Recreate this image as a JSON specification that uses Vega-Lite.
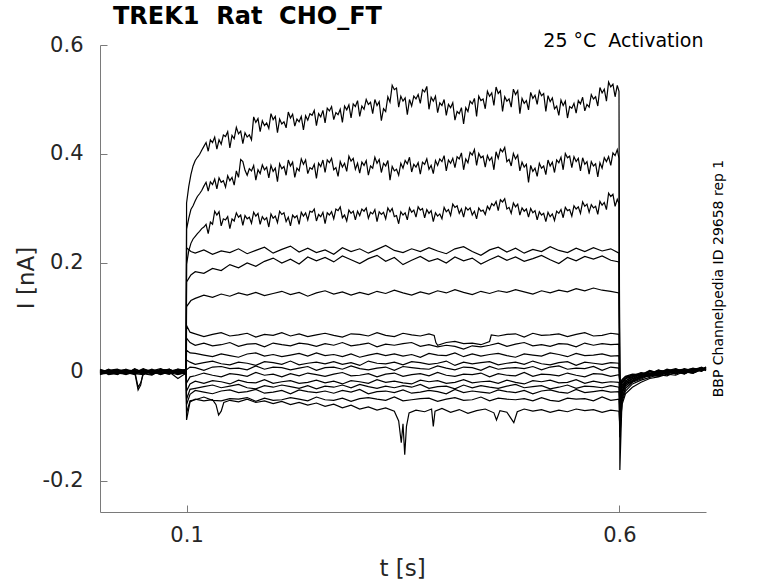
{
  "$schema": "https://vega.github.io/schema/vega-lite/v6.json",
  "width": 606,
  "height": 467,
  "autosize": {"type": "none"},
  "padding": {"left": 100, "top": 45, "right": 72, "bottom": 71},
  "background": "white",
  "config": {
    "view": {"stroke": null},
    "font": "DejaVu Sans",
    "axis": {
      "grid": false,
      "domainColor": "#7a7a7a",
      "tickColor": "#7a7a7a",
      "labelColor": "#262626",
      "labelFont": "DejaVu Sans",
      "labelFontSize": 21,
      "titleFont": "DejaVu Sans",
      "titleFontSize": 23,
      "titleFontWeight": "normal",
      "titleColor": "#262626",
      "tickSize": -7
    }
  },
  "title": {
    "text": "TREK1\u00a0 Rat\u00a0 CHO_FT",
    "anchor": "start",
    "frame": "group",
    "dx": 13,
    "offset": 2,
    "baseline": "top",
    "font": "DejaVu Sans",
    "fontSize": 24,
    "fontWeight": "bold",
    "color": "black"
  },
  "data": {
    "values": [
      {"s":1,"t":0,"i":0.003},{"s":1,"t":0.01,"i":-0.004},{"s":1,"t":0.02,"i":0.002},{"s":1,"t":0.03,"i":-0.001},{"s":1,"t":0.04,"i":-0.005},{"s":1,"t":0.05,"i":0.004},{"s":1,"t":0.06,"i":0.001},{"s":1,"t":0.07,"i":-0.003},{"s":1,"t":0.08,"i":0.005},{"s":1,"t":0.09,"i":-0.002},{"s":1,"t":0.0995,"i":0.001},
      {"s":1,"t":0.1,"i":0.31},{"s":1,"t":0.105,"i":0.362},{"s":1,"t":0.11,"i":0.388},{"s":1,"t":0.115,"i":0.399},{"s":1,"t":0.12,"i":0.414},{"s":1,"t":0.125,"i":0.405},{"s":1,"t":0.13,"i":0.421},{"s":1,"t":0.135,"i":0.409},{"s":1,"t":0.14,"i":0.418},{"s":1,"t":0.145,"i":0.432},
      {"s":1,"t":0.15,"i":0.411},{"s":1,"t":0.155,"i":0.428},{"s":1,"t":0.16,"i":0.437},{"s":1,"t":0.165,"i":0.419},{"s":1,"t":0.17,"i":0.431},{"s":1,"t":0.175,"i":0.426},{"s":1,"t":0.18,"i":0.458},{"s":1,"t":0.185,"i":0.441},{"s":1,"t":0.19,"i":0.452},{"s":1,"t":0.195,"i":0.447},
      {"s":1,"t":0.2,"i":0.463},{"s":1,"t":0.205,"i":0.439},{"s":1,"t":0.21,"i":0.455},{"s":1,"t":0.215,"i":0.448},{"s":1,"t":0.22,"i":0.466},{"s":1,"t":0.225,"i":0.451},{"s":1,"t":0.23,"i":0.459},{"s":1,"t":0.235,"i":0.444},{"s":1,"t":0.24,"i":0.462},{"s":1,"t":0.245,"i":0.471},
      {"s":1,"t":0.25,"i":0.452},{"s":1,"t":0.255,"i":0.468},{"s":1,"t":0.26,"i":0.457},{"s":1,"t":0.265,"i":0.479},{"s":1,"t":0.27,"i":0.463},{"s":1,"t":0.275,"i":0.472},{"s":1,"t":0.28,"i":0.458},{"s":1,"t":0.285,"i":0.481},{"s":1,"t":0.29,"i":0.466},{"s":1,"t":0.295,"i":0.487},
      {"s":1,"t":0.3,"i":0.469},{"s":1,"t":0.305,"i":0.482},{"s":1,"t":0.31,"i":0.491},{"s":1,"t":0.315,"i":0.474},{"s":1,"t":0.32,"i":0.489},{"s":1,"t":0.325,"i":0.461},{"s":1,"t":0.33,"i":0.478},{"s":1,"t":0.335,"i":0.495},{"s":1,"t":0.34,"i":0.518},{"s":1,"t":0.345,"i":0.486},
      {"s":1,"t":0.35,"i":0.497},{"s":1,"t":0.355,"i":0.472},{"s":1,"t":0.36,"i":0.488},{"s":1,"t":0.365,"i":0.501},{"s":1,"t":0.37,"i":0.493},{"s":1,"t":0.375,"i":0.514},{"s":1,"t":0.38,"i":0.482},{"s":1,"t":0.385,"i":0.497},{"s":1,"t":0.39,"i":0.476},{"s":1,"t":0.395,"i":0.489},
      {"s":1,"t":0.4,"i":0.471},{"s":1,"t":0.405,"i":0.485},{"s":1,"t":0.41,"i":0.462},{"s":1,"t":0.415,"i":0.474},{"s":1,"t":0.42,"i":0.455},{"s":1,"t":0.425,"i":0.478},{"s":1,"t":0.43,"i":0.492},{"s":1,"t":0.435,"i":0.469},{"s":1,"t":0.44,"i":0.498},{"s":1,"t":0.445,"i":0.483},
      {"s":1,"t":0.45,"i":0.506},{"s":1,"t":0.455,"i":0.489},{"s":1,"t":0.46,"i":0.511},{"s":1,"t":0.465,"i":0.478},{"s":1,"t":0.47,"i":0.497},{"s":1,"t":0.475,"i":0.486},{"s":1,"t":0.48,"i":0.509},{"s":1,"t":0.485,"i":0.474},{"s":1,"t":0.49,"i":0.493},{"s":1,"t":0.495,"i":0.481},
      {"s":1,"t":0.5,"i":0.502},{"s":1,"t":0.505,"i":0.491},{"s":1,"t":0.51,"i":0.507},{"s":1,"t":0.515,"i":0.478},{"s":1,"t":0.52,"i":0.496},{"s":1,"t":0.525,"i":0.483},{"s":1,"t":0.53,"i":0.471},{"s":1,"t":0.535,"i":0.489},{"s":1,"t":0.54,"i":0.466},{"s":1,"t":0.545,"i":0.484},
      {"s":1,"t":0.55,"i":0.475},{"s":1,"t":0.555,"i":0.492},{"s":1,"t":0.56,"i":0.479},{"s":1,"t":0.565,"i":0.486},{"s":1,"t":0.57,"i":0.501},{"s":1,"t":0.575,"i":0.488},{"s":1,"t":0.58,"i":0.512},{"s":1,"t":0.585,"i":0.497},{"s":1,"t":0.59,"i":0.523},{"s":1,"t":0.595,"i":0.505},{"s":1,"t":0.5995,"i":0.515},
      {"s":1,"t":0.6005,"i":-0.18},{"s":1,"t":0.603,"i":-0.05},{"s":1,"t":0.607,"i":-0.03},{"s":1,"t":0.615,"i":-0.018},{"s":1,"t":0.625,"i":-0.011},{"s":1,"t":0.635,"i":-0.004},{"s":1,"t":0.645,"i":-0.007},{"s":1,"t":0.655,"i":0.002},{"s":1,"t":0.665,"i":-0.003},{"s":1,"t":0.675,"i":0.004},{"s":1,"t":0.685,"i":0.001},{"s":1,"t":0.695,"i":0.008},{"s":1,"t":0.7,"i":0.005},
      {"s":1,"t":0.1025,"i":0.34},{"s":1,"t":0.1075,"i":0.378},{"s":1,"t":0.1125,"i":0.394},{"s":1,"t":0.1175,"i":0.407},{"s":1,"t":0.1225,"i":0.421},{"s":1,"t":0.1275,"i":0.426},{"s":1,"t":0.1325,"i":0.431},{"s":1,"t":0.1375,"i":0.426},{"s":1,"t":0.1425,"i":0.435},{"s":1,"t":0.1475,"i":0.441},
      {"s":1,"t":0.1525,"i":0.434},{"s":1,"t":0.1575,"i":0.449},{"s":1,"t":0.1625,"i":0.442},{"s":1,"t":0.1675,"i":0.439},{"s":1,"t":0.1725,"i":0.435},{"s":1,"t":0.1775,"i":0.468},{"s":1,"t":0.1825,"i":0.465},{"s":1,"t":0.1875,"i":0.461},{"s":1,"t":0.1925,"i":0.457},{"s":1,"t":0.1975,"i":0.474},
      {"s":1,"t":0.2025,"i":0.469},{"s":1,"t":0.2075,"i":0.464},{"s":1,"t":0.2125,"i":0.459},{"s":1,"t":0.2175,"i":0.477},{"s":1,"t":0.2225,"i":0.473},{"s":1,"t":0.2275,"i":0.464},{"s":1,"t":0.2325,"i":0.469},{"s":1,"t":0.2375,"i":0.47},{"s":1,"t":0.2425,"i":0.474},{"s":1,"t":0.2475,"i":0.48},
      {"s":1,"t":0.2525,"i":0.474},{"s":1,"t":0.2575,"i":0.48},{"s":1,"t":0.2625,"i":0.484},{"s":1,"t":0.2675,"i":0.487},{"s":1,"t":0.2725,"i":0.476},{"s":1,"t":0.2775,"i":0.482},{"s":1,"t":0.2825,"i":0.488},{"s":1,"t":0.2875,"i":0.49},{"s":1,"t":0.2925,"i":0.492},{"s":1,"t":0.2975,"i":0.498},
      {"s":1,"t":0.3025,"i":0.488},{"s":1,"t":0.3075,"i":0.5},{"s":1,"t":0.3125,"i":0.495},{"s":1,"t":0.3175,"i":0.5},{"s":1,"t":0.3225,"i":0.496},{"s":1,"t":0.3275,"i":0.483},{"s":1,"t":0.3325,"i":0.505},{"s":1,"t":0.3375,"i":0.526},{"s":1,"t":0.3425,"i":0.521},{"s":1,"t":0.3475,"i":0.506},
      {"s":1,"t":0.3525,"i":0.503},{"s":1,"t":0.3575,"i":0.5},{"s":1,"t":0.3625,"i":0.506},{"s":1,"t":0.3675,"i":0.509},{"s":1,"t":0.3725,"i":0.518},{"s":1,"t":0.3775,"i":0.524},{"s":1,"t":0.3825,"i":0.504},{"s":1,"t":0.3875,"i":0.506},{"s":1,"t":0.3925,"i":0.494},{"s":1,"t":0.3975,"i":0.5},
      {"s":1,"t":0.4025,"i":0.491},{"s":1,"t":0.4075,"i":0.494},{"s":1,"t":0.4125,"i":0.478},{"s":1,"t":0.4175,"i":0.485},{"s":1,"t":0.4225,"i":0.485},{"s":1,"t":0.4275,"i":0.497},{"s":1,"t":0.4325,"i":0.502},{"s":1,"t":0.4375,"i":0.506},{"s":1,"t":0.4425,"i":0.501},{"s":1,"t":0.4475,"i":0.515},
      {"s":1,"t":0.4525,"i":0.512},{"s":1,"t":0.4575,"i":0.523},{"s":1,"t":0.4625,"i":0.516},{"s":1,"t":0.4675,"i":0.505},{"s":1,"t":0.4725,"i":0.501},{"s":1,"t":0.4775,"i":0.519},{"s":1,"t":0.4825,"i":0.516},{"s":1,"t":0.4875,"i":0.502},{"s":1,"t":0.4925,"i":0.498},{"s":1,"t":0.4975,"i":0.513},
      {"s":1,"t":0.5025,"i":0.508},{"s":1,"t":0.5075,"i":0.516},{"s":1,"t":0.5125,"i":0.511},{"s":1,"t":0.5175,"i":0.507},{"s":1,"t":0.5225,"i":0.503},{"s":1,"t":0.5275,"i":0.488},{"s":1,"t":0.5325,"i":0.499},{"s":1,"t":0.5375,"i":0.497},{"s":1,"t":0.5425,"i":0.487},{"s":1,"t":0.5475,"i":0.493},
      {"s":1,"t":0.5525,"i":0.498},{"s":1,"t":0.5575,"i":0.504},{"s":1,"t":0.5625,"i":0.491},{"s":1,"t":0.5675,"i":0.509},{"s":1,"t":0.5725,"i":0.505},{"s":1,"t":0.5775,"i":0.522},{"s":1,"t":0.5825,"i":0.519},{"s":1,"t":0.5875,"i":0.532},{"s":1,"t":0.5925,"i":0.528},{"s":1,"t":0.5975,"i":0.526},

      {"s":2,"t":0,"i":-0.002},{"s":2,"t":0.01,"i":0.005},{"s":2,"t":0.02,"i":-0.003},{"s":2,"t":0.03,"i":0.001},{"s":2,"t":0.04,"i":0.003},{"s":2,"t":0.05,"i":-0.004},{"s":2,"t":0.06,"i":0.002},{"s":2,"t":0.07,"i":0.006},{"s":2,"t":0.08,"i":-0.001},{"s":2,"t":0.09,"i":-0.005},{"s":2,"t":0.0995,"i":0},
      {"s":2,"t":0.1,"i":0.262},{"s":2,"t":0.105,"i":0.298},{"s":2,"t":0.11,"i":0.314},{"s":2,"t":0.115,"i":0.327},{"s":2,"t":0.12,"i":0.341},{"s":2,"t":0.125,"i":0.332},{"s":2,"t":0.13,"i":0.344},{"s":2,"t":0.135,"i":0.336},{"s":2,"t":0.14,"i":0.348},{"s":2,"t":0.145,"i":0.339},
      {"s":2,"t":0.15,"i":0.351},{"s":2,"t":0.155,"i":0.343},{"s":2,"t":0.16,"i":0.357},{"s":2,"t":0.165,"i":0.386},{"s":2,"t":0.17,"i":0.361},{"s":2,"t":0.175,"i":0.369},{"s":2,"t":0.18,"i":0.352},{"s":2,"t":0.185,"i":0.364},{"s":2,"t":0.19,"i":0.371},{"s":2,"t":0.195,"i":0.356},
      {"s":2,"t":0.2,"i":0.368},{"s":2,"t":0.205,"i":0.349},{"s":2,"t":0.21,"i":0.373},{"s":2,"t":0.215,"i":0.361},{"s":2,"t":0.22,"i":0.378},{"s":2,"t":0.225,"i":0.357},{"s":2,"t":0.23,"i":0.369},{"s":2,"t":0.235,"i":0.381},{"s":2,"t":0.24,"i":0.364},{"s":2,"t":0.245,"i":0.372},
      {"s":2,"t":0.25,"i":0.355},{"s":2,"t":0.255,"i":0.377},{"s":2,"t":0.26,"i":0.366},{"s":2,"t":0.265,"i":0.384},{"s":2,"t":0.27,"i":0.371},{"s":2,"t":0.275,"i":0.359},{"s":2,"t":0.28,"i":0.376},{"s":2,"t":0.285,"i":0.368},{"s":2,"t":0.29,"i":0.387},{"s":2,"t":0.295,"i":0.372},
      {"s":2,"t":0.3,"i":0.365},{"s":2,"t":0.305,"i":0.379},{"s":2,"t":0.31,"i":0.361},{"s":2,"t":0.315,"i":0.374},{"s":2,"t":0.32,"i":0.383},{"s":2,"t":0.325,"i":0.366},{"s":2,"t":0.33,"i":0.378},{"s":2,"t":0.335,"i":0.352},{"s":2,"t":0.34,"i":0.369},{"s":2,"t":0.345,"i":0.361},
      {"s":2,"t":0.35,"i":0.374},{"s":2,"t":0.355,"i":0.382},{"s":2,"t":0.36,"i":0.367},{"s":2,"t":0.365,"i":0.376},{"s":2,"t":0.37,"i":0.363},{"s":2,"t":0.375,"i":0.381},{"s":2,"t":0.38,"i":0.372},{"s":2,"t":0.385,"i":0.364},{"s":2,"t":0.39,"i":0.379},{"s":2,"t":0.395,"i":0.386},
      {"s":2,"t":0.4,"i":0.369},{"s":2,"t":0.405,"i":0.383},{"s":2,"t":0.41,"i":0.375},{"s":2,"t":0.415,"i":0.391},{"s":2,"t":0.42,"i":0.371},{"s":2,"t":0.425,"i":0.384},{"s":2,"t":0.43,"i":0.398},{"s":2,"t":0.435,"i":0.379},{"s":2,"t":0.44,"i":0.393},{"s":2,"t":0.445,"i":0.376},
      {"s":2,"t":0.45,"i":0.388},{"s":2,"t":0.455,"i":0.371},{"s":2,"t":0.46,"i":0.392},{"s":2,"t":0.465,"i":0.404},{"s":2,"t":0.47,"i":0.386},{"s":2,"t":0.475,"i":0.378},{"s":2,"t":0.48,"i":0.391},{"s":2,"t":0.485,"i":0.369},{"s":2,"t":0.49,"i":0.376},{"s":2,"t":0.495,"i":0.348},
      {"s":2,"t":0.5,"i":0.368},{"s":2,"t":0.505,"i":0.359},{"s":2,"t":0.51,"i":0.374},{"s":2,"t":0.515,"i":0.362},{"s":2,"t":0.52,"i":0.378},{"s":2,"t":0.525,"i":0.366},{"s":2,"t":0.53,"i":0.384},{"s":2,"t":0.535,"i":0.371},{"s":2,"t":0.54,"i":0.393},{"s":2,"t":0.545,"i":0.375},
      {"s":2,"t":0.55,"i":0.386},{"s":2,"t":0.555,"i":0.369},{"s":2,"t":0.56,"i":0.381},{"s":2,"t":0.565,"i":0.363},{"s":2,"t":0.57,"i":0.378},{"s":2,"t":0.575,"i":0.358},{"s":2,"t":0.58,"i":0.374},{"s":2,"t":0.585,"i":0.386},{"s":2,"t":0.59,"i":0.379},{"s":2,"t":0.595,"i":0.397},{"s":2,"t":0.5995,"i":0.392},
      {"s":2,"t":0.6005,"i":-0.11},{"s":2,"t":0.603,"i":-0.04},{"s":2,"t":0.607,"i":-0.026},{"s":2,"t":0.615,"i":-0.015},{"s":2,"t":0.625,"i":-0.006},{"s":2,"t":0.635,"i":-0.008},{"s":2,"t":0.645,"i":0.001},{"s":2,"t":0.655,"i":-0.004},{"s":2,"t":0.665,"i":0.003},{"s":2,"t":0.675,"i":-0.001},{"s":2,"t":0.685,"i":0.006},{"s":2,"t":0.695,"i":0.002},{"s":2,"t":0.7,"i":0.009},
      {"s":2,"t":0.1025,"i":0.282},{"s":2,"t":0.1075,"i":0.305},{"s":2,"t":0.1125,"i":0.322},{"s":2,"t":0.1175,"i":0.333},{"s":2,"t":0.1225,"i":0.348},{"s":2,"t":0.1275,"i":0.349},{"s":2,"t":0.1325,"i":0.354},{"s":2,"t":0.1375,"i":0.356},{"s":2,"t":0.1425,"i":0.351},{"s":2,"t":0.1475,"i":0.36},
      {"s":2,"t":0.1525,"i":0.357},{"s":2,"t":0.1575,"i":0.369},{"s":2,"t":0.1625,"i":0.39},{"s":2,"t":0.1675,"i":0.37},{"s":2,"t":0.1725,"i":0.373},{"s":2,"t":0.1775,"i":0.379},{"s":2,"t":0.1825,"i":0.371},{"s":2,"t":0.1875,"i":0.38},{"s":2,"t":0.1925,"i":0.376},{"s":2,"t":0.1975,"i":0.379},
      {"s":2,"t":0.2025,"i":0.374},{"s":2,"t":0.2075,"i":0.382},{"s":2,"t":0.2125,"i":0.377},{"s":2,"t":0.2175,"i":0.389},{"s":2,"t":0.2225,"i":0.385},{"s":2,"t":0.2275,"i":0.374},{"s":2,"t":0.2325,"i":0.391},{"s":2,"t":0.2375,"i":0.389},{"s":2,"t":0.2425,"i":0.375},{"s":2,"t":0.2475,"i":0.381},
      {"s":2,"t":0.2525,"i":0.383},{"s":2,"t":0.2575,"i":0.389},{"s":2,"t":0.2625,"i":0.389},{"s":2,"t":0.2675,"i":0.392},{"s":2,"t":0.2725,"i":0.375},{"s":2,"t":0.2775,"i":0.386},{"s":2,"t":0.2825,"i":0.383},{"s":2,"t":0.2875,"i":0.396},{"s":2,"t":0.2925,"i":0.392},{"s":2,"t":0.2975,"i":0.383},
      {"s":2,"t":0.3025,"i":0.385},{"s":2,"t":0.3075,"i":0.388},{"s":2,"t":0.3125,"i":0.378},{"s":2,"t":0.3175,"i":0.394},{"s":2,"t":0.3225,"i":0.39},{"s":2,"t":0.3275,"i":0.383},{"s":2,"t":0.3325,"i":0.388},{"s":2,"t":0.3375,"i":0.377},{"s":2,"t":0.3425,"i":0.372},{"s":2,"t":0.3475,"i":0.383},
      {"s":2,"t":0.3525,"i":0.388},{"s":2,"t":0.3575,"i":0.394},{"s":2,"t":0.3625,"i":0.381},{"s":2,"t":0.3675,"i":0.384},{"s":2,"t":0.3725,"i":0.385},{"s":2,"t":0.3775,"i":0.391},{"s":2,"t":0.3825,"i":0.379},{"s":2,"t":0.3875,"i":0.388},{"s":2,"t":0.3925,"i":0.391},{"s":2,"t":0.3975,"i":0.397},
      {"s":2,"t":0.4025,"i":0.389},{"s":2,"t":0.4075,"i":0.392},{"s":2,"t":0.4125,"i":0.395},{"s":2,"t":0.4175,"i":0.402},{"s":2,"t":0.4225,"i":0.391},{"s":2,"t":0.4275,"i":0.403},{"s":2,"t":0.4325,"i":0.408},{"s":2,"t":0.4375,"i":0.401},{"s":2,"t":0.4425,"i":0.396},{"s":2,"t":0.4475,"i":0.397},
      {"s":2,"t":0.4525,"i":0.394},{"s":2,"t":0.4575,"i":0.404},{"s":2,"t":0.4625,"i":0.409},{"s":2,"t":0.4675,"i":0.412},{"s":2,"t":0.4725,"i":0.39},{"s":2,"t":0.4775,"i":0.401},{"s":2,"t":0.4825,"i":0.398},{"s":2,"t":0.4875,"i":0.385},{"s":2,"t":0.4925,"i":0.381},{"s":2,"t":0.4975,"i":0.379},
      {"s":2,"t":0.5025,"i":0.374},{"s":2,"t":0.5075,"i":0.383},{"s":2,"t":0.5125,"i":0.378},{"s":2,"t":0.5175,"i":0.389},{"s":2,"t":0.5225,"i":0.385},{"s":2,"t":0.5275,"i":0.389},{"s":2,"t":0.5325,"i":0.394},{"s":2,"t":0.5375,"i":0.401},{"s":2,"t":0.5425,"i":0.396},{"s":2,"t":0.5475,"i":0.395},
      {"s":2,"t":0.5525,"i":0.392},{"s":2,"t":0.5575,"i":0.393},{"s":2,"t":0.5625,"i":0.386},{"s":2,"t":0.5675,"i":0.386},{"s":2,"t":0.5725,"i":0.382},{"s":2,"t":0.5775,"i":0.384},{"s":2,"t":0.5825,"i":0.393},{"s":2,"t":0.5875,"i":0.395},{"s":2,"t":0.5925,"i":0.402},{"s":2,"t":0.5975,"i":0.408},

      {"s":3,"t":0,"i":0.004},{"s":3,"t":0.01,"i":0.001},{"s":3,"t":0.02,"i":-0.005},{"s":3,"t":0.03,"i":0.003},{"s":3,"t":0.04,"i":-0.002},{"s":3,"t":0.05,"i":0},{"s":3,"t":0.06,"i":0.005},{"s":3,"t":0.07,"i":-0.003},{"s":3,"t":0.08,"i":-0.001},{"s":3,"t":0.09,"i":0.003},{"s":3,"t":0.0995,"i":-0.004},
      {"s":3,"t":0.1,"i":0.198},{"s":3,"t":0.105,"i":0.236},{"s":3,"t":0.11,"i":0.249},{"s":3,"t":0.115,"i":0.258},{"s":3,"t":0.12,"i":0.266},{"s":3,"t":0.125,"i":0.254},{"s":3,"t":0.13,"i":0.271},{"s":3,"t":0.135,"i":0.288},{"s":3,"t":0.14,"i":0.268},{"s":3,"t":0.145,"i":0.279},
      {"s":3,"t":0.15,"i":0.263},{"s":3,"t":0.155,"i":0.277},{"s":3,"t":0.16,"i":0.284},{"s":3,"t":0.165,"i":0.269},{"s":3,"t":0.17,"i":0.281},{"s":3,"t":0.175,"i":0.273},{"s":3,"t":0.18,"i":0.286},{"s":3,"t":0.185,"i":0.271},{"s":3,"t":0.19,"i":0.279},{"s":3,"t":0.195,"i":0.266},
      {"s":3,"t":0.2,"i":0.282},{"s":3,"t":0.205,"i":0.274},{"s":3,"t":0.21,"i":0.289},{"s":3,"t":0.215,"i":0.276},{"s":3,"t":0.22,"i":0.268},{"s":3,"t":0.225,"i":0.283},{"s":3,"t":0.23,"i":0.271},{"s":3,"t":0.235,"i":0.286},{"s":3,"t":0.24,"i":0.279},{"s":3,"t":0.245,"i":0.293},
      {"s":3,"t":0.25,"i":0.277},{"s":3,"t":0.255,"i":0.285},{"s":3,"t":0.26,"i":0.272},{"s":3,"t":0.265,"i":0.288},{"s":3,"t":0.27,"i":0.281},{"s":3,"t":0.275,"i":0.296},{"s":3,"t":0.28,"i":0.283},{"s":3,"t":0.285,"i":0.277},{"s":3,"t":0.29,"i":0.291},{"s":3,"t":0.295,"i":0.279},
      {"s":3,"t":0.3,"i":0.287},{"s":3,"t":0.305,"i":0.295},{"s":3,"t":0.31,"i":0.282},{"s":3,"t":0.315,"i":0.29},{"s":3,"t":0.32,"i":0.276},{"s":3,"t":0.325,"i":0.289},{"s":3,"t":0.33,"i":0.281},{"s":3,"t":0.335,"i":0.294},{"s":3,"t":0.34,"i":0.285},{"s":3,"t":0.345,"i":0.272},
      {"s":3,"t":0.35,"i":0.288},{"s":3,"t":0.355,"i":0.279},{"s":3,"t":0.36,"i":0.293},{"s":3,"t":0.365,"i":0.284},{"s":3,"t":0.37,"i":0.297},{"s":3,"t":0.375,"i":0.283},{"s":3,"t":0.38,"i":0.291},{"s":3,"t":0.385,"i":0.276},{"s":3,"t":0.39,"i":0.286},{"s":3,"t":0.395,"i":0.281},
      {"s":3,"t":0.4,"i":0.294},{"s":3,"t":0.405,"i":0.287},{"s":3,"t":0.41,"i":0.302},{"s":3,"t":0.415,"i":0.291},{"s":3,"t":0.42,"i":0.284},{"s":3,"t":0.425,"i":0.297},{"s":3,"t":0.43,"i":0.288},{"s":3,"t":0.435,"i":0.281},{"s":3,"t":0.44,"i":0.295},{"s":3,"t":0.445,"i":0.289},
      {"s":3,"t":0.45,"i":0.298},{"s":3,"t":0.455,"i":0.305},{"s":3,"t":0.46,"i":0.296},{"s":3,"t":0.465,"i":0.312},{"s":3,"t":0.47,"i":0.299},{"s":3,"t":0.475,"i":0.291},{"s":3,"t":0.48,"i":0.303},{"s":3,"t":0.485,"i":0.288},{"s":3,"t":0.49,"i":0.295},{"s":3,"t":0.495,"i":0.284},
      {"s":3,"t":0.5,"i":0.292},{"s":3,"t":0.505,"i":0.279},{"s":3,"t":0.51,"i":0.288},{"s":3,"t":0.515,"i":0.276},{"s":3,"t":0.52,"i":0.285},{"s":3,"t":0.525,"i":0.278},{"s":3,"t":0.53,"i":0.291},{"s":3,"t":0.535,"i":0.283},{"s":3,"t":0.54,"i":0.296},{"s":3,"t":0.545,"i":0.286},
      {"s":3,"t":0.55,"i":0.299},{"s":3,"t":0.555,"i":0.291},{"s":3,"t":0.56,"i":0.304},{"s":3,"t":0.565,"i":0.293},{"s":3,"t":0.57,"i":0.301},{"s":3,"t":0.575,"i":0.289},{"s":3,"t":0.58,"i":0.306},{"s":3,"t":0.585,"i":0.298},{"s":3,"t":0.59,"i":0.322},{"s":3,"t":0.595,"i":0.304},{"s":3,"t":0.5995,"i":0.309},
      {"s":3,"t":0.6005,"i":-0.085},{"s":3,"t":0.603,"i":-0.036},{"s":3,"t":0.607,"i":-0.022},{"s":3,"t":0.615,"i":-0.016},{"s":3,"t":0.625,"i":-0.009},{"s":3,"t":0.635,"i":-0.002},{"s":3,"t":0.645,"i":-0.005},{"s":3,"t":0.655,"i":0.003},{"s":3,"t":0.665,"i":0.001},{"s":3,"t":0.675,"i":-0.003},{"s":3,"t":0.685,"i":0.005},{"s":3,"t":0.695,"i":0.007},{"s":3,"t":0.7,"i":0.003},
      {"s":3,"t":0.1025,"i":0.222},{"s":3,"t":0.1075,"i":0.244},{"s":3,"t":0.1125,"i":0.254},{"s":3,"t":0.1175,"i":0.263},{"s":3,"t":0.1225,"i":0.271},{"s":3,"t":0.1275,"i":0.275},{"s":3,"t":0.1325,"i":0.295},{"s":3,"t":0.1375,"i":0.294},{"s":3,"t":0.1425,"i":0.281},{"s":3,"t":0.1475,"i":0.285},
      {"s":3,"t":0.1525,"i":0.281},{"s":3,"t":0.1575,"i":0.292},{"s":3,"t":0.1625,"i":0.288},{"s":3,"t":0.1675,"i":0.287},{"s":3,"t":0.1725,"i":0.284},{"s":3,"t":0.1775,"i":0.293},{"s":3,"t":0.1825,"i":0.291},{"s":3,"t":0.1875,"i":0.285},{"s":3,"t":0.1925,"i":0.283},{"s":3,"t":0.1975,"i":0.29},
      {"s":3,"t":0.2025,"i":0.286},{"s":3,"t":0.2075,"i":0.295},{"s":3,"t":0.2125,"i":0.292},{"s":3,"t":0.2175,"i":0.284},{"s":3,"t":0.2225,"i":0.288},{"s":3,"t":0.2275,"i":0.287},{"s":3,"t":0.2325,"i":0.293},{"s":3,"t":0.2375,"i":0.292},{"s":3,"t":0.2425,"i":0.295},{"s":3,"t":0.2475,"i":0.299},
      {"s":3,"t":0.2525,"i":0.289},{"s":3,"t":0.2575,"i":0.293},{"s":3,"t":0.2625,"i":0.292},{"s":3,"t":0.2675,"i":0.294},{"s":3,"t":0.2725,"i":0.299},{"s":3,"t":0.2775,"i":0.303},{"s":3,"t":0.2825,"i":0.288},{"s":3,"t":0.2875,"i":0.297},{"s":3,"t":0.2925,"i":0.295},{"s":3,"t":0.2975,"i":0.295},
      {"s":3,"t":0.3025,"i":0.299},{"s":3,"t":0.3075,"i":0.301},{"s":3,"t":0.3125,"i":0.293},{"s":3,"t":0.3175,"i":0.298},{"s":3,"t":0.3225,"i":0.294},{"s":3,"t":0.3275,"i":0.293},{"s":3,"t":0.3325,"i":0.301},{"s":3,"t":0.3375,"i":0.3},{"s":3,"t":0.3425,"i":0.287},{"s":3,"t":0.3475,"i":0.294},
      {"s":3,"t":0.3525,"i":0.292},{"s":3,"t":0.3575,"i":0.301},{"s":3,"t":0.3625,"i":0.297},{"s":3,"t":0.3675,"i":0.303},{"s":3,"t":0.3725,"i":0.3},{"s":3,"t":0.3775,"i":0.298},{"s":3,"t":0.3825,"i":0.296},{"s":3,"t":0.3875,"i":0.292},{"s":3,"t":0.3925,"i":0.29},{"s":3,"t":0.3975,"i":0.302},
      {"s":3,"t":0.4025,"i":0.298},{"s":3,"t":0.4075,"i":0.308},{"s":3,"t":0.4125,"i":0.305},{"s":3,"t":0.4175,"i":0.299},{"s":3,"t":0.4225,"i":0.302},{"s":3,"t":0.4275,"i":0.301},{"s":3,"t":0.4325,"i":0.295},{"s":3,"t":0.4375,"i":0.301},{"s":3,"t":0.4425,"i":0.297},{"s":3,"t":0.4475,"i":0.304},
      {"s":3,"t":0.4525,"i":0.309},{"s":3,"t":0.4575,"i":0.313},{"s":3,"t":0.4625,"i":0.316},{"s":3,"t":0.4675,"i":0.318},{"s":3,"t":0.4725,"i":0.302},{"s":3,"t":0.4775,"i":0.31},{"s":3,"t":0.4825,"i":0.308},{"s":3,"t":0.4875,"i":0.301},{"s":3,"t":0.4925,"i":0.299},{"s":3,"t":0.4975,"i":0.3},
      {"s":3,"t":0.5025,"i":0.296},{"s":3,"t":0.5075,"i":0.294},{"s":3,"t":0.5125,"i":0.291},{"s":3,"t":0.5175,"i":0.293},{"s":3,"t":0.5225,"i":0.29},{"s":3,"t":0.5275,"i":0.295},{"s":3,"t":0.5325,"i":0.298},{"s":3,"t":0.5375,"i":0.302},{"s":3,"t":0.5425,"i":0.298},{"s":3,"t":0.5475,"i":0.305},
      {"s":3,"t":0.5525,"i":0.303},{"s":3,"t":0.5575,"i":0.312},{"s":3,"t":0.5625,"i":0.308},{"s":3,"t":0.5675,"i":0.307},{"s":3,"t":0.5725,"i":0.304},{"s":3,"t":0.5775,"i":0.313},{"s":3,"t":0.5825,"i":0.311},{"s":3,"t":0.5875,"i":0.328},{"s":3,"t":0.5925,"i":0.326},{"s":3,"t":0.5975,"i":0.317},

      {"s":4,"t":0,"i":-0.005},{"s":4,"t":0.01,"i":0.002},{"s":4,"t":0.02,"i":0.004},{"s":4,"t":0.03,"i":-0.002},{"s":4,"t":0.04,"i":0.001},{"s":4,"t":0.05,"i":-0.003},{"s":4,"t":0.06,"i":-0.006},{"s":4,"t":0.07,"i":0.003},{"s":4,"t":0.08,"i":0},{"s":4,"t":0.09,"i":0.004},{"s":4,"t":0.0995,"i":0.002},
      {"s":4,"t":0.1,"i":0.228},{"s":4,"t":0.105,"i":0.221},{"s":4,"t":0.11,"i":0.218},{"s":4,"t":0.12,"i":0.224},{"s":4,"t":0.13,"i":0.216},{"s":4,"t":0.14,"i":0.222},{"s":4,"t":0.15,"i":0.219},{"s":4,"t":0.16,"i":0.226},{"s":4,"t":0.17,"i":0.217},{"s":4,"t":0.18,"i":0.223},{"s":4,"t":0.19,"i":0.229},
      {"s":4,"t":0.2,"i":0.218},{"s":4,"t":0.21,"i":0.225},{"s":4,"t":0.22,"i":0.231},{"s":4,"t":0.23,"i":0.22},{"s":4,"t":0.24,"i":0.227},{"s":4,"t":0.25,"i":0.219},{"s":4,"t":0.26,"i":0.224},{"s":4,"t":0.27,"i":0.216},{"s":4,"t":0.28,"i":0.228},{"s":4,"t":0.29,"i":0.221},
      {"s":4,"t":0.3,"i":0.226},{"s":4,"t":0.31,"i":0.218},{"s":4,"t":0.32,"i":0.225},{"s":4,"t":0.33,"i":0.232},{"s":4,"t":0.34,"i":0.223},{"s":4,"t":0.35,"i":0.219},{"s":4,"t":0.36,"i":0.226},{"s":4,"t":0.37,"i":0.221},{"s":4,"t":0.38,"i":0.228},{"s":4,"t":0.39,"i":0.222},
      {"s":4,"t":0.4,"i":0.217},{"s":4,"t":0.41,"i":0.226},{"s":4,"t":0.42,"i":0.23},{"s":4,"t":0.43,"i":0.221},{"s":4,"t":0.44,"i":0.214},{"s":4,"t":0.45,"i":0.224},{"s":4,"t":0.46,"i":0.229},{"s":4,"t":0.47,"i":0.22},{"s":4,"t":0.48,"i":0.227},{"s":4,"t":0.49,"i":0.218},
      {"s":4,"t":0.5,"i":0.225},{"s":4,"t":0.51,"i":0.221},{"s":4,"t":0.52,"i":0.23},{"s":4,"t":0.53,"i":0.223},{"s":4,"t":0.54,"i":0.219},{"s":4,"t":0.55,"i":0.227},{"s":4,"t":0.56,"i":0.221},{"s":4,"t":0.57,"i":0.228},{"s":4,"t":0.58,"i":0.222},{"s":4,"t":0.59,"i":0.226},{"s":4,"t":0.5995,"i":0.218},
      {"s":4,"t":0.6005,"i":-0.06},{"s":4,"t":0.603,"i":-0.035},{"s":4,"t":0.607,"i":-0.022},{"s":4,"t":0.615,"i":-0.013},{"s":4,"t":0.625,"i":-0.008},{"s":4,"t":0.635,"i":-0.005},{"s":4,"t":0.645,"i":0.001},{"s":4,"t":0.655,"i":-0.002},{"s":4,"t":0.665,"i":0.004},{"s":4,"t":0.675,"i":0},{"s":4,"t":0.685,"i":-0.002},{"s":4,"t":0.695,"i":0.006},{"s":4,"t":0.7,"i":0.004},

      {"s":5,"t":0,"i":0.001},{"s":5,"t":0.01,"i":-0.003},{"s":5,"t":0.02,"i":0},{"s":5,"t":0.03,"i":0.005},{"s":5,"t":0.04,"i":-0.004},{"s":5,"t":0.05,"i":0.002},{"s":5,"t":0.06,"i":-0.001},{"s":5,"t":0.07,"i":0.004},{"s":5,"t":0.08,"i":-0.003},{"s":5,"t":0.09,"i":0.001},{"s":5,"t":0.0995,"i":0.003},
      {"s":5,"t":0.1,"i":0.165},{"s":5,"t":0.105,"i":0.178},{"s":5,"t":0.11,"i":0.184},{"s":5,"t":0.12,"i":0.181},{"s":5,"t":0.13,"i":0.19},{"s":5,"t":0.14,"i":0.186},{"s":5,"t":0.15,"i":0.197},{"s":5,"t":0.16,"i":0.191},{"s":5,"t":0.17,"i":0.2},{"s":5,"t":0.18,"i":0.194},{"s":5,"t":0.19,"i":0.203},
      {"s":5,"t":0.2,"i":0.209},{"s":5,"t":0.21,"i":0.2},{"s":5,"t":0.22,"i":0.207},{"s":5,"t":0.23,"i":0.198},{"s":5,"t":0.24,"i":0.211},{"s":5,"t":0.25,"i":0.204},{"s":5,"t":0.26,"i":0.21},{"s":5,"t":0.27,"i":0.202},{"s":5,"t":0.28,"i":0.213},{"s":5,"t":0.29,"i":0.206},
      {"s":5,"t":0.3,"i":0.199},{"s":5,"t":0.31,"i":0.208},{"s":5,"t":0.32,"i":0.214},{"s":5,"t":0.33,"i":0.203},{"s":5,"t":0.34,"i":0.21},{"s":5,"t":0.35,"i":0.197},{"s":5,"t":0.36,"i":0.205},{"s":5,"t":0.37,"i":0.212},{"s":5,"t":0.38,"i":0.203},{"s":5,"t":0.39,"i":0.208},
      {"s":5,"t":0.4,"i":0.2},{"s":5,"t":0.41,"i":0.211},{"s":5,"t":0.42,"i":0.204},{"s":5,"t":0.43,"i":0.209},{"s":5,"t":0.44,"i":0.198},{"s":5,"t":0.45,"i":0.206},{"s":5,"t":0.46,"i":0.213},{"s":5,"t":0.47,"i":0.205},{"s":5,"t":0.48,"i":0.211},{"s":5,"t":0.49,"i":0.203},
      {"s":5,"t":0.5,"i":0.208},{"s":5,"t":0.51,"i":0.214},{"s":5,"t":0.52,"i":0.206},{"s":5,"t":0.53,"i":0.199},{"s":5,"t":0.54,"i":0.21},{"s":5,"t":0.55,"i":0.204},{"s":5,"t":0.56,"i":0.212},{"s":5,"t":0.57,"i":0.207},{"s":5,"t":0.58,"i":0.213},{"s":5,"t":0.59,"i":0.205},{"s":5,"t":0.5995,"i":0.202},
      {"s":5,"t":0.6005,"i":-0.05},{"s":5,"t":0.603,"i":-0.03},{"s":5,"t":0.607,"i":-0.019},{"s":5,"t":0.615,"i":-0.012},{"s":5,"t":0.625,"i":-0.004},{"s":5,"t":0.635,"i":-0.007},{"s":5,"t":0.645,"i":-0.001},{"s":5,"t":0.655,"i":0.003},{"s":5,"t":0.665,"i":-0.004},{"s":5,"t":0.675,"i":0.003},{"s":5,"t":0.685,"i":0.006},{"s":5,"t":0.695,"i":0.001},{"s":5,"t":0.7,"i":0.007},

      {"s":6,"t":0,"i":-0.003},{"s":6,"t":0.01,"i":0.003},{"s":6,"t":0.02,"i":-0.002},{"s":6,"t":0.03,"i":-0.004},{"s":6,"t":0.04,"i":0.006},{"s":6,"t":0.05,"i":-0.001},{"s":6,"t":0.06,"i":0.003},{"s":6,"t":0.07,"i":-0.002},{"s":6,"t":0.08,"i":0.002},{"s":6,"t":0.09,"i":-0.004},{"s":6,"t":0.0995,"i":-0.002},
      {"s":6,"t":0.1,"i":0.12},{"s":6,"t":0.105,"i":0.131},{"s":6,"t":0.11,"i":0.135},{"s":6,"t":0.12,"i":0.141},{"s":6,"t":0.13,"i":0.137},{"s":6,"t":0.14,"i":0.143},{"s":6,"t":0.15,"i":0.139},{"s":6,"t":0.16,"i":0.145},{"s":6,"t":0.17,"i":0.141},{"s":6,"t":0.18,"i":0.146},{"s":6,"t":0.19,"i":0.14},
      {"s":6,"t":0.2,"i":0.144},{"s":6,"t":0.21,"i":0.148},{"s":6,"t":0.22,"i":0.142},{"s":6,"t":0.23,"i":0.146},{"s":6,"t":0.24,"i":0.139},{"s":6,"t":0.25,"i":0.145},{"s":6,"t":0.26,"i":0.149},{"s":6,"t":0.27,"i":0.143},{"s":6,"t":0.28,"i":0.147},{"s":6,"t":0.29,"i":0.141},
      {"s":6,"t":0.3,"i":0.146},{"s":6,"t":0.31,"i":0.142},{"s":6,"t":0.32,"i":0.148},{"s":6,"t":0.33,"i":0.144},{"s":6,"t":0.34,"i":0.15},{"s":6,"t":0.35,"i":0.145},{"s":6,"t":0.36,"i":0.141},{"s":6,"t":0.37,"i":0.147},{"s":6,"t":0.38,"i":0.143},{"s":6,"t":0.39,"i":0.149},
      {"s":6,"t":0.4,"i":0.145},{"s":6,"t":0.41,"i":0.151},{"s":6,"t":0.42,"i":0.146},{"s":6,"t":0.43,"i":0.142},{"s":6,"t":0.44,"i":0.148},{"s":6,"t":0.45,"i":0.144},{"s":6,"t":0.46,"i":0.149},{"s":6,"t":0.47,"i":0.146},{"s":6,"t":0.48,"i":0.151},{"s":6,"t":0.49,"i":0.147},
      {"s":6,"t":0.5,"i":0.143},{"s":6,"t":0.51,"i":0.149},{"s":6,"t":0.52,"i":0.145},{"s":6,"t":0.53,"i":0.15},{"s":6,"t":0.54,"i":0.147},{"s":6,"t":0.55,"i":0.153},{"s":6,"t":0.56,"i":0.149},{"s":6,"t":0.57,"i":0.154},{"s":6,"t":0.58,"i":0.15},{"s":6,"t":0.59,"i":0.148},{"s":6,"t":0.5995,"i":0.145},
      {"s":6,"t":0.6005,"i":-0.045},{"s":6,"t":0.603,"i":-0.027},{"s":6,"t":0.607,"i":-0.017},{"s":6,"t":0.615,"i":-0.008},{"s":6,"t":0.625,"i":-0.006},{"s":6,"t":0.635,"i":0.001},{"s":6,"t":0.645,"i":-0.004},{"s":6,"t":0.655,"i":0.002},{"s":6,"t":0.665,"i":0.004},{"s":6,"t":0.675,"i":-0.002},{"s":6,"t":0.685,"i":0.003},{"s":6,"t":0.695,"i":0.008},{"s":6,"t":0.7,"i":0.002},

      {"s":7,"t":0,"i":0.005},{"s":7,"t":0.01,"i":-0.001},{"s":7,"t":0.02,"i":0.003},{"s":7,"t":0.03,"i":0.001},{"s":7,"t":0.04,"i":-0.003},{"s":7,"t":0.05,"i":0.005},{"s":7,"t":0.06,"i":-0.004},{"s":7,"t":0.07,"i":0},{"s":7,"t":0.08,"i":-0.004},{"s":7,"t":0.09,"i":0.002},{"s":7,"t":0.0995,"i":0.004},
      {"s":7,"t":0.1,"i":0.085},{"s":7,"t":0.104,"i":0.073},{"s":7,"t":0.11,"i":0.07},{"s":7,"t":0.12,"i":0.065},{"s":7,"t":0.13,"i":0.069},{"s":7,"t":0.14,"i":0.072},{"s":7,"t":0.15,"i":0.066},{"s":7,"t":0.16,"i":0.068},{"s":7,"t":0.17,"i":0.071},{"s":7,"t":0.18,"i":0.064},{"s":7,"t":0.19,"i":0.069},
      {"s":7,"t":0.2,"i":0.067},{"s":7,"t":0.21,"i":0.072},{"s":7,"t":0.22,"i":0.066},{"s":7,"t":0.23,"i":0.07},{"s":7,"t":0.24,"i":0.065},{"s":7,"t":0.25,"i":0.068},{"s":7,"t":0.26,"i":0.071},{"s":7,"t":0.27,"i":0.067},{"s":7,"t":0.28,"i":0.064},{"s":7,"t":0.29,"i":0.07},
      {"s":7,"t":0.3,"i":0.069},{"s":7,"t":0.31,"i":0.066},{"s":7,"t":0.32,"i":0.072},{"s":7,"t":0.33,"i":0.067},{"s":7,"t":0.34,"i":0.065},{"s":7,"t":0.35,"i":0.071},{"s":7,"t":0.36,"i":0.068},{"s":7,"t":0.37,"i":0.066},{"s":7,"t":0.38,"i":0.07},{"s":7,"t":0.386,"i":0.067},
      {"s":7,"t":0.388,"i":0.054},{"s":7,"t":0.39,"i":0.049},{"s":7,"t":0.4,"i":0.054},{"s":7,"t":0.41,"i":0.056},{"s":7,"t":0.42,"i":0.052},{"s":7,"t":0.43,"i":0.053},{"s":7,"t":0.44,"i":0.05},{"s":7,"t":0.45,"i":0.056},{"s":7,"t":0.452,"i":0.068},
      {"s":7,"t":0.46,"i":0.066},{"s":7,"t":0.47,"i":0.069},{"s":7,"t":0.48,"i":0.07},{"s":7,"t":0.49,"i":0.064},{"s":7,"t":0.5,"i":0.071},{"s":7,"t":0.51,"i":0.067},{"s":7,"t":0.52,"i":0.068},{"s":7,"t":0.53,"i":0.07},{"s":7,"t":0.54,"i":0.065},{"s":7,"t":0.55,"i":0.069},{"s":7,"t":0.56,"i":0.072},{"s":7,"t":0.57,"i":0.066},{"s":7,"t":0.58,"i":0.067},{"s":7,"t":0.59,"i":0.071},{"s":7,"t":0.5995,"i":0.069},
      {"s":7,"t":0.6005,"i":-0.04},{"s":7,"t":0.603,"i":-0.024},{"s":7,"t":0.607,"i":-0.016},{"s":7,"t":0.615,"i":-0.01},{"s":7,"t":0.625,"i":-0.003},{"s":7,"t":0.635,"i":-0.006},{"s":7,"t":0.645,"i":0.002},{"s":7,"t":0.655,"i":-0.001},{"s":7,"t":0.665,"i":0.005},{"s":7,"t":0.675,"i":0.001},{"s":7,"t":0.685,"i":-0.002},{"s":7,"t":0.695,"i":0.004},{"s":7,"t":0.7,"i":0.009},

      {"s":8,"t":0,"i":0},{"s":8,"t":0.01,"i":0.004},{"s":8,"t":0.02,"i":-0.004},{"s":8,"t":0.03,"i":0.004},{"s":8,"t":0.04,"i":0.002},{"s":8,"t":0.05,"i":-0.002},{"s":8,"t":0.06,"i":0.001},{"s":8,"t":0.07,"i":-0.005},{"s":8,"t":0.08,"i":0.001},{"s":8,"t":0.09,"i":0.005},{"s":8,"t":0.0995,"i":-0.001},
      {"s":8,"t":0.1,"i":0.062},{"s":8,"t":0.104,"i":0.054},{"s":8,"t":0.11,"i":0.049},{"s":8,"t":0.12,"i":0.053},{"s":8,"t":0.13,"i":0.048},{"s":8,"t":0.14,"i":0.05},{"s":8,"t":0.15,"i":0.054},{"s":8,"t":0.16,"i":0.047},{"s":8,"t":0.17,"i":0.051},{"s":8,"t":0.18,"i":0.052},{"s":8,"t":0.19,"i":0.046},
      {"s":8,"t":0.2,"i":0.053},{"s":8,"t":0.21,"i":0.05},{"s":8,"t":0.22,"i":0.048},{"s":8,"t":0.23,"i":0.053},{"s":8,"t":0.24,"i":0.051},{"s":8,"t":0.25,"i":0.047},{"s":8,"t":0.26,"i":0.052},{"s":8,"t":0.27,"i":0.049},{"s":8,"t":0.28,"i":0.054},{"s":8,"t":0.29,"i":0.048},
      {"s":8,"t":0.3,"i":0.05},{"s":8,"t":0.31,"i":0.053},{"s":8,"t":0.32,"i":0.046},{"s":8,"t":0.33,"i":0.051},{"s":8,"t":0.34,"i":0.049},{"s":8,"t":0.35,"i":0.052},{"s":8,"t":0.36,"i":0.054},{"s":8,"t":0.37,"i":0.047},{"s":8,"t":0.38,"i":0.05},{"s":8,"t":0.39,"i":0.046},
      {"s":8,"t":0.4,"i":0.049},{"s":8,"t":0.41,"i":0.047},{"s":8,"t":0.42,"i":0.042},{"s":8,"t":0.43,"i":0.048},{"s":8,"t":0.44,"i":0.046},{"s":8,"t":0.45,"i":0.049},{"s":8,"t":0.46,"i":0.053},{"s":8,"t":0.47,"i":0.047},{"s":8,"t":0.48,"i":0.051},{"s":8,"t":0.49,"i":0.054},
      {"s":8,"t":0.5,"i":0.048},{"s":8,"t":0.51,"i":0.05},{"s":8,"t":0.52,"i":0.047},{"s":8,"t":0.53,"i":0.052},{"s":8,"t":0.54,"i":0.051},{"s":8,"t":0.55,"i":0.046},{"s":8,"t":0.56,"i":0.053},{"s":8,"t":0.57,"i":0.049},{"s":8,"t":0.58,"i":0.052},{"s":8,"t":0.59,"i":0.05},{"s":8,"t":0.5995,"i":0.051},
      {"s":8,"t":0.6005,"i":-0.035},{"s":8,"t":0.603,"i":-0.021},{"s":8,"t":0.607,"i":-0.013},{"s":8,"t":0.615,"i":-0.006},{"s":8,"t":0.625,"i":-0.007},{"s":8,"t":0.635,"i":0},{"s":8,"t":0.645,"i":-0.003},{"s":8,"t":0.655,"i":0.004},{"s":8,"t":0.665,"i":-0.002},{"s":8,"t":0.675,"i":0.006},{"s":8,"t":0.685,"i":0.002},{"s":8,"t":0.695,"i":0.007},{"s":8,"t":0.7,"i":0.004},

      {"s":9,"t":0,"i":-0.004},{"s":9,"t":0.01,"i":-0.002},{"s":9,"t":0.02,"i":0.001},{"s":9,"t":0.03,"i":-0.005},{"s":9,"t":0.04,"i":0},{"s":9,"t":0.05,"i":0.003},{"s":9,"t":0.06,"i":-0.002},{"s":9,"t":0.07,"i":0.002},{"s":9,"t":0.08,"i":0.005},{"s":9,"t":0.09,"i":-0.003},{"s":9,"t":0.0995,"i":0.002},
      {"s":9,"t":0.1,"i":0.04},{"s":9,"t":0.104,"i":0.035},{"s":9,"t":0.11,"i":0.034},{"s":9,"t":0.12,"i":0.031},{"s":9,"t":0.13,"i":0.028},{"s":9,"t":0.14,"i":0.033},{"s":9,"t":0.15,"i":0.03},{"s":9,"t":0.16,"i":0.027},{"s":9,"t":0.17,"i":0.033},{"s":9,"t":0.18,"i":0.035},{"s":9,"t":0.19,"i":0.029},
      {"s":9,"t":0.2,"i":0.032},{"s":9,"t":0.21,"i":0.028},{"s":9,"t":0.22,"i":0.031},{"s":9,"t":0.23,"i":0.034},{"s":9,"t":0.24,"i":0.029},{"s":9,"t":0.25,"i":0.035},{"s":9,"t":0.26,"i":0.03},{"s":9,"t":0.27,"i":0.032},{"s":9,"t":0.28,"i":0.028},{"s":9,"t":0.29,"i":0.033},
      {"s":9,"t":0.3,"i":0.027},{"s":9,"t":0.31,"i":0.031},{"s":9,"t":0.32,"i":0.034},{"s":9,"t":0.33,"i":0.03},{"s":9,"t":0.34,"i":0.033},{"s":9,"t":0.35,"i":0.029},{"s":9,"t":0.36,"i":0.032},{"s":9,"t":0.37,"i":0.027},{"s":9,"t":0.38,"i":0.034},{"s":9,"t":0.39,"i":0.031},
      {"s":9,"t":0.4,"i":0.03},{"s":9,"t":0.41,"i":0.035},{"s":9,"t":0.42,"i":0.028},{"s":9,"t":0.43,"i":0.033},{"s":9,"t":0.44,"i":0.029},{"s":9,"t":0.45,"i":0.032},{"s":9,"t":0.46,"i":0.034},{"s":9,"t":0.47,"i":0.03},{"s":9,"t":0.48,"i":0.027},{"s":9,"t":0.49,"i":0.033},
      {"s":9,"t":0.5,"i":0.031},{"s":9,"t":0.51,"i":0.029},{"s":9,"t":0.52,"i":0.035},{"s":9,"t":0.53,"i":0.032},{"s":9,"t":0.54,"i":0.028},{"s":9,"t":0.55,"i":0.034},{"s":9,"t":0.56,"i":0.03},{"s":9,"t":0.57,"i":0.031},{"s":9,"t":0.58,"i":0.033},{"s":9,"t":0.59,"i":0.029},{"s":9,"t":0.5995,"i":0.03},
      {"s":9,"t":0.6005,"i":-0.03},{"s":9,"t":0.603,"i":-0.019},{"s":9,"t":0.607,"i":-0.012},{"s":9,"t":0.615,"i":-0.009},{"s":9,"t":0.625,"i":-0.002},{"s":9,"t":0.635,"i":-0.004},{"s":9,"t":0.645,"i":0.003},{"s":9,"t":0.655,"i":0.001},{"s":9,"t":0.665,"i":-0.003},{"s":9,"t":0.675,"i":0.002},{"s":9,"t":0.685,"i":0.007},{"s":9,"t":0.695,"i":0.003},{"s":9,"t":0.7,"i":0.006},

      {"s":10,"t":0,"i":0.002},{"s":10,"t":0.01,"i":0},{"s":10,"t":0.02,"i":-0.001},{"s":10,"t":0.03,"i":0.002},{"s":10,"t":0.04,"i":-0.003},{"s":10,"t":0.05,"i":-0.005},{"s":10,"t":0.06,"i":0.004},{"s":10,"t":0.07,"i":0.001},{"s":10,"t":0.08,"i":-0.002},{"s":10,"t":0.09,"i":0},{"s":10,"t":0.0995,"i":-0.003},
      {"s":10,"t":0.1,"i":0.022},{"s":10,"t":0.104,"i":0.018},{"s":10,"t":0.11,"i":0.014},{"s":10,"t":0.12,"i":0.017},{"s":10,"t":0.13,"i":0.02},{"s":10,"t":0.14,"i":0.015},{"s":10,"t":0.15,"i":0.013},{"s":10,"t":0.16,"i":0.018},{"s":10,"t":0.17,"i":0.016},{"s":10,"t":0.18,"i":0.012},{"s":10,"t":0.19,"i":0.019},
      {"s":10,"t":0.2,"i":0.017},{"s":10,"t":0.21,"i":0.014},{"s":10,"t":0.22,"i":0.02},{"s":10,"t":0.23,"i":0.013},{"s":10,"t":0.24,"i":0.016},{"s":10,"t":0.25,"i":0.018},{"s":10,"t":0.26,"i":0.015},{"s":10,"t":0.27,"i":0.019},{"s":10,"t":0.28,"i":0.014},{"s":10,"t":0.29,"i":0.017},
      {"s":10,"t":0.3,"i":0.012},{"s":10,"t":0.31,"i":0.02},{"s":10,"t":0.32,"i":0.016},{"s":10,"t":0.33,"i":0.015},{"s":10,"t":0.34,"i":0.018},{"s":10,"t":0.35,"i":0.013},{"s":10,"t":0.36,"i":0.019},{"s":10,"t":0.37,"i":0.017},{"s":10,"t":0.38,"i":0.014},{"s":10,"t":0.39,"i":0.016},
      {"s":10,"t":0.4,"i":0.02},{"s":10,"t":0.41,"i":0.012},{"s":10,"t":0.42,"i":0.018},{"s":10,"t":0.43,"i":0.015},{"s":10,"t":0.44,"i":0.017},{"s":10,"t":0.45,"i":0.019},{"s":10,"t":0.46,"i":0.013},{"s":10,"t":0.47,"i":0.016},{"s":10,"t":0.48,"i":0.018},{"s":10,"t":0.49,"i":0.014},
      {"s":10,"t":0.5,"i":0.02},{"s":10,"t":0.51,"i":0.015},{"s":10,"t":0.52,"i":0.013},{"s":10,"t":0.53,"i":0.017},{"s":10,"t":0.54,"i":0.019},{"s":10,"t":0.55,"i":0.012},{"s":10,"t":0.56,"i":0.018},{"s":10,"t":0.57,"i":0.016},{"s":10,"t":0.58,"i":0.014},{"s":10,"t":0.59,"i":0.017},{"s":10,"t":0.5995,"i":0.016},
      {"s":10,"t":0.6005,"i":-0.028},{"s":10,"t":0.603,"i":-0.017},{"s":10,"t":0.607,"i":-0.011},{"s":10,"t":0.615,"i":-0.005},{"s":10,"t":0.625,"i":-0.006},{"s":10,"t":0.635,"i":0.002},{"s":10,"t":0.645,"i":-0.002},{"s":10,"t":0.655,"i":0.005},{"s":10,"t":0.665,"i":0.001},{"s":10,"t":0.675,"i":-0.004},{"s":10,"t":0.685,"i":0.004},{"s":10,"t":0.695,"i":0.009},{"s":10,"t":0.7,"i":0.003},

      {"s":11,"t":0,"i":-0.001},{"s":11,"t":0.01,"i":0.003},{"s":11,"t":0.02,"i":0.005},{"s":11,"t":0.03,"i":-0.001},{"s":11,"t":0.04,"i":0.004},{"s":11,"t":0.05,"i":0.001},{"s":11,"t":0.06,"i":-0.003},{"s":11,"t":0.07,"i":0.005},{"s":11,"t":0.08,"i":0.002},{"s":11,"t":0.09,"i":-0.001},{"s":11,"t":0.0995,"i":0.005},
      {"s":11,"t":0.1,"i":0.004},{"s":11,"t":0.104,"i":0.009},{"s":11,"t":0.11,"i":0.008},{"s":11,"t":0.12,"i":0.003},{"s":11,"t":0.13,"i":0.009},{"s":11,"t":0.14,"i":0.01},{"s":11,"t":0.15,"i":0.006},{"s":11,"t":0.16,"i":0.007},{"s":11,"t":0.17,"i":0.004},{"s":11,"t":0.18,"i":0.011},{"s":11,"t":0.19,"i":0.005},
      {"s":11,"t":0.2,"i":0.009},{"s":11,"t":0.21,"i":0.008},{"s":11,"t":0.22,"i":0.004},{"s":11,"t":0.23,"i":0.007},{"s":11,"t":0.24,"i":0.01},{"s":11,"t":0.25,"i":0.003},{"s":11,"t":0.26,"i":0.008},{"s":11,"t":0.27,"i":0.009},{"s":11,"t":0.28,"i":0.005},{"s":11,"t":0.29,"i":0.011},
      {"s":11,"t":0.3,"i":0.006},{"s":11,"t":0.31,"i":0.004},{"s":11,"t":0.32,"i":0.007},{"s":11,"t":0.33,"i":0.009},{"s":11,"t":0.34,"i":0.003},{"s":11,"t":0.35,"i":0.01},{"s":11,"t":0.36,"i":0.008},{"s":11,"t":0.37,"i":0.006},{"s":11,"t":0.38,"i":0.005},{"s":11,"t":0.39,"i":0.011},
      {"s":11,"t":0.4,"i":0.007},{"s":11,"t":0.41,"i":0.004},{"s":11,"t":0.42,"i":0.009},{"s":11,"t":0.43,"i":0.008},{"s":11,"t":0.44,"i":0.003},{"s":11,"t":0.45,"i":0.01},{"s":11,"t":0.46,"i":0.005},{"s":11,"t":0.47,"i":0.007},{"s":11,"t":0.48,"i":0.008},{"s":11,"t":0.49,"i":0.006},
      {"s":11,"t":0.5,"i":0.01},{"s":11,"t":0.51,"i":0.004},{"s":11,"t":0.52,"i":0.009},{"s":11,"t":0.53,"i":0.011},{"s":11,"t":0.54,"i":0.005},{"s":11,"t":0.55,"i":0.007},{"s":11,"t":0.56,"i":0.006},{"s":11,"t":0.57,"i":0.01},{"s":11,"t":0.58,"i":0.003},{"s":11,"t":0.59,"i":0.009},{"s":11,"t":0.5995,"i":0.007},
      {"s":11,"t":0.6005,"i":-0.025},{"s":11,"t":0.603,"i":-0.015},{"s":11,"t":0.607,"i":-0.009},{"s":11,"t":0.615,"i":-0.007},{"s":11,"t":0.625,"i":-0.001},{"s":11,"t":0.635,"i":-0.004},{"s":11,"t":0.645,"i":0.004},{"s":11,"t":0.655,"i":-0.001},{"s":11,"t":0.665,"i":0.003},{"s":11,"t":0.675,"i":0.005},{"s":11,"t":0.685,"i":-0.001},{"s":11,"t":0.695,"i":0.006},{"s":11,"t":0.7,"i":0.008},

      {"s":12,"t":0,"i":0.003},{"s":12,"t":0.01,"i":-0.005},{"s":12,"t":0.02,"i":-0.002},{"s":12,"t":0.03,"i":0.003},{"s":12,"t":0.04,"i":-0.001},{"s":12,"t":0.05,"i":0.006},{"s":12,"t":0.06,"i":0},{"s":12,"t":0.07,"i":-0.004},{"s":12,"t":0.08,"i":-0.001},{"s":12,"t":0.09,"i":0.003},{"s":12,"t":0.0995,"i":-0.005},
      {"s":12,"t":0.1,"i":-0.02},{"s":12,"t":0.104,"i":-0.009},{"s":12,"t":0.11,"i":-0.007},{"s":12,"t":0.12,"i":-0.002},{"s":12,"t":0.13,"i":-0.006},{"s":12,"t":0.14,"i":-0.009},{"s":12,"t":0.15,"i":-0.003},{"s":12,"t":0.16,"i":-0.005},{"s":12,"t":0.17,"i":-0.008},{"s":12,"t":0.18,"i":-0.001},{"s":12,"t":0.19,"i":-0.006},
      {"s":12,"t":0.2,"i":-0.004},{"s":12,"t":0.21,"i":-0.009},{"s":12,"t":0.22,"i":-0.003},{"s":12,"t":0.23,"i":-0.007},{"s":12,"t":0.24,"i":-0.002},{"s":12,"t":0.25,"i":-0.005},{"s":12,"t":0.26,"i":-0.008},{"s":12,"t":0.27,"i":-0.004},{"s":12,"t":0.28,"i":-0.001},{"s":12,"t":0.29,"i":-0.007},
      {"s":12,"t":0.3,"i":-0.006},{"s":12,"t":0.31,"i":-0.003},{"s":12,"t":0.32,"i":-0.009},{"s":12,"t":0.33,"i":-0.004},{"s":12,"t":0.34,"i":-0.002},{"s":12,"t":0.35,"i":-0.008},{"s":12,"t":0.36,"i":-0.005},{"s":12,"t":0.37,"i":-0.003},{"s":12,"t":0.38,"i":-0.007},{"s":12,"t":0.39,"i":-0.001},
      {"s":12,"t":0.4,"i":-0.006},{"s":12,"t":0.41,"i":-0.008},{"s":12,"t":0.42,"i":-0.004},{"s":12,"t":0.43,"i":-0.005},{"s":12,"t":0.44,"i":-0.002},{"s":12,"t":0.45,"i":-0.009},{"s":12,"t":0.46,"i":-0.003},{"s":12,"t":0.47,"i":-0.006},{"s":12,"t":0.48,"i":-0.007},{"s":12,"t":0.49,"i":-0.001},
      {"s":12,"t":0.5,"i":-0.008},{"s":12,"t":0.51,"i":-0.004},{"s":12,"t":0.52,"i":-0.005},{"s":12,"t":0.53,"i":-0.007},{"s":12,"t":0.54,"i":-0.002},{"s":12,"t":0.55,"i":-0.006},{"s":12,"t":0.56,"i":-0.009},{"s":12,"t":0.57,"i":-0.003},{"s":12,"t":0.58,"i":-0.004},{"s":12,"t":0.59,"i":-0.008},{"s":12,"t":0.5995,"i":-0.005},
      {"s":12,"t":0.6005,"i":-0.022},{"s":12,"t":0.603,"i":-0.014},{"s":12,"t":0.607,"i":-0.008},{"s":12,"t":0.615,"i":-0.004},{"s":12,"t":0.625,"i":-0.005},{"s":12,"t":0.635,"i":0.003},{"s":12,"t":0.645,"i":-0.002},{"s":12,"t":0.655,"i":0.002},{"s":12,"t":0.665,"i":0.006},{"s":12,"t":0.675,"i":0},{"s":12,"t":0.685,"i":0.004},{"s":12,"t":0.695,"i":0.002},{"s":12,"t":0.7,"i":0.006},

      {"s":13,"t":0,"i":-0.002},{"s":13,"t":0.01,"i":0.001},{"s":13,"t":0.02,"i":0.002},{"s":13,"t":0.03,"i":-0.003},{"s":13,"t":0.04,"i":0.005},{"s":13,"t":0.05,"i":-0.002},{"s":13,"t":0.06,"i":-0.005},{"s":13,"t":0.07,"i":0.003},{"s":13,"t":0.08,"i":0.004},{"s":13,"t":0.09,"i":-0.002},{"s":13,"t":0.0995,"i":0.001},
      {"s":13,"t":0.1,"i":-0.035},{"s":13,"t":0.104,"i":-0.022},{"s":13,"t":0.11,"i":-0.017},{"s":13,"t":0.12,"i":-0.021},{"s":13,"t":0.13,"i":-0.016},{"s":13,"t":0.14,"i":-0.018},{"s":13,"t":0.15,"i":-0.022},{"s":13,"t":0.16,"i":-0.015},{"s":13,"t":0.17,"i":-0.019},{"s":13,"t":0.18,"i":-0.02},{"s":13,"t":0.19,"i":-0.014},
      {"s":13,"t":0.2,"i":-0.021},{"s":13,"t":0.21,"i":-0.018},{"s":13,"t":0.22,"i":-0.016},{"s":13,"t":0.23,"i":-0.021},{"s":13,"t":0.24,"i":-0.019},{"s":13,"t":0.25,"i":-0.015},{"s":13,"t":0.26,"i":-0.02},{"s":13,"t":0.27,"i":-0.017},{"s":13,"t":0.28,"i":-0.022},{"s":13,"t":0.29,"i":-0.016},
      {"s":13,"t":0.3,"i":-0.018},{"s":13,"t":0.31,"i":-0.021},{"s":13,"t":0.32,"i":-0.014},{"s":13,"t":0.33,"i":-0.019},{"s":13,"t":0.34,"i":-0.017},{"s":13,"t":0.35,"i":-0.02},{"s":13,"t":0.36,"i":-0.022},{"s":13,"t":0.37,"i":-0.015},{"s":13,"t":0.38,"i":-0.018},{"s":13,"t":0.39,"i":-0.016},
      {"s":13,"t":0.4,"i":-0.021},{"s":13,"t":0.41,"i":-0.019},{"s":13,"t":0.42,"i":-0.014},{"s":13,"t":0.43,"i":-0.02},{"s":13,"t":0.44,"i":-0.018},{"s":13,"t":0.45,"i":-0.017},{"s":13,"t":0.46,"i":-0.021},{"s":13,"t":0.47,"i":-0.015},{"s":13,"t":0.48,"i":-0.019},{"s":13,"t":0.49,"i":-0.022},
      {"s":13,"t":0.5,"i":-0.016},{"s":13,"t":0.51,"i":-0.018},{"s":13,"t":0.52,"i":-0.015},{"s":13,"t":0.53,"i":-0.02},{"s":13,"t":0.54,"i":-0.019},{"s":13,"t":0.55,"i":-0.014},{"s":13,"t":0.56,"i":-0.021},{"s":13,"t":0.57,"i":-0.017},{"s":13,"t":0.58,"i":-0.02},{"s":13,"t":0.59,"i":-0.018},{"s":13,"t":0.5995,"i":-0.019},
      {"s":13,"t":0.6005,"i":-0.06},{"s":13,"t":0.603,"i":-0.03},{"s":13,"t":0.607,"i":-0.02},{"s":13,"t":0.615,"i":-0.012},{"s":13,"t":0.625,"i":-0.008},{"s":13,"t":0.635,"i":-0.003},{"s":13,"t":0.645,"i":-0.005},{"s":13,"t":0.655,"i":0.001},{"s":13,"t":0.665,"i":-0.002},{"s":13,"t":0.675,"i":0.004},{"s":13,"t":0.685,"i":0.002},{"s":13,"t":0.695,"i":0.007},{"s":13,"t":0.7,"i":0.005},

      {"s":14,"t":0,"i":0.001},{"s":14,"t":0.01,"i":-0.003},{"s":14,"t":0.02,"i":-0.003},{"s":14,"t":0.03,"i":0.001},{"s":14,"t":0.04,"i":-0.002},{"s":14,"t":0.05,"i":0.004},{"s":14,"t":0.06,"i":0.002},{"s":14,"t":0.07,"i":-0.001},{"s":14,"t":0.08,"i":-0.004},{"s":14,"t":0.09,"i":0.005},{"s":14,"t":0.0995,"i":0.003},
      {"s":14,"t":0.1,"i":-0.05},{"s":14,"t":0.104,"i":-0.032},{"s":14,"t":0.11,"i":-0.03},{"s":14,"t":0.12,"i":-0.027},{"s":14,"t":0.13,"i":-0.024},{"s":14,"t":0.14,"i":-0.029},{"s":14,"t":0.15,"i":-0.026},{"s":14,"t":0.16,"i":-0.023},{"s":14,"t":0.17,"i":-0.029},{"s":14,"t":0.18,"i":-0.031},{"s":14,"t":0.19,"i":-0.025},
      {"s":14,"t":0.2,"i":-0.028},{"s":14,"t":0.21,"i":-0.024},{"s":14,"t":0.22,"i":-0.027},{"s":14,"t":0.23,"i":-0.03},{"s":14,"t":0.24,"i":-0.025},{"s":14,"t":0.25,"i":-0.031},{"s":14,"t":0.26,"i":-0.026},{"s":14,"t":0.27,"i":-0.028},{"s":14,"t":0.28,"i":-0.024},{"s":14,"t":0.29,"i":-0.029},
      {"s":14,"t":0.3,"i":-0.023},{"s":14,"t":0.31,"i":-0.027},{"s":14,"t":0.32,"i":-0.03},{"s":14,"t":0.33,"i":-0.026},{"s":14,"t":0.34,"i":-0.029},{"s":14,"t":0.35,"i":-0.025},{"s":14,"t":0.36,"i":-0.028},{"s":14,"t":0.37,"i":-0.023},{"s":14,"t":0.38,"i":-0.03},{"s":14,"t":0.39,"i":-0.027},
      {"s":14,"t":0.4,"i":-0.026},{"s":14,"t":0.41,"i":-0.031},{"s":14,"t":0.42,"i":-0.024},{"s":14,"t":0.43,"i":-0.029},{"s":14,"t":0.44,"i":-0.025},{"s":14,"t":0.45,"i":-0.028},{"s":14,"t":0.46,"i":-0.03},{"s":14,"t":0.47,"i":-0.026},{"s":14,"t":0.48,"i":-0.023},{"s":14,"t":0.49,"i":-0.029},
      {"s":14,"t":0.5,"i":-0.027},{"s":14,"t":0.51,"i":-0.025},{"s":14,"t":0.52,"i":-0.031},{"s":14,"t":0.53,"i":-0.028},{"s":14,"t":0.54,"i":-0.024},{"s":14,"t":0.55,"i":-0.03},{"s":14,"t":0.56,"i":-0.026},{"s":14,"t":0.57,"i":-0.027},{"s":14,"t":0.58,"i":-0.029},{"s":14,"t":0.59,"i":-0.025},{"s":14,"t":0.5995,"i":-0.028},
      {"s":14,"t":0.6005,"i":-0.075},{"s":14,"t":0.603,"i":-0.038},{"s":14,"t":0.607,"i":-0.025},{"s":14,"t":0.615,"i":-0.017},{"s":14,"t":0.625,"i":-0.01},{"s":14,"t":0.635,"i":-0.007},{"s":14,"t":0.645,"i":-0.002},{"s":14,"t":0.655,"i":-0.004},{"s":14,"t":0.665,"i":0.002},{"s":14,"t":0.675,"i":-0.001},{"s":14,"t":0.685,"i":0.005},{"s":14,"t":0.695,"i":0.003},{"s":14,"t":0.7,"i":0.007},

      {"s":15,"t":0,"i":-0.003},{"s":15,"t":0.01,"i":0.002},{"s":15,"t":0.02,"i":0.003},{"s":15,"t":0.03,"i":0.004},{"s":15,"t":0.04,"i":0},{"s":15,"t":0.05,"i":-0.004},{"s":15,"t":0.06,"i":0.003},{"s":15,"t":0.07,"i":-0.002},{"s":15,"t":0.08,"i":0},{"s":15,"t":0.09,"i":-0.012},{"s":15,"t":0.0995,"i":-0.002},
      {"s":15,"t":0.1,"i":-0.06},{"s":15,"t":0.104,"i":-0.041},{"s":15,"t":0.11,"i":-0.034},{"s":15,"t":0.12,"i":-0.037},{"s":15,"t":0.13,"i":-0.04},{"s":15,"t":0.14,"i":-0.035},{"s":15,"t":0.15,"i":-0.033},{"s":15,"t":0.16,"i":-0.038},{"s":15,"t":0.17,"i":-0.036},{"s":15,"t":0.18,"i":-0.032},{"s":15,"t":0.19,"i":-0.039},
      {"s":15,"t":0.2,"i":-0.037},{"s":15,"t":0.21,"i":-0.034},{"s":15,"t":0.22,"i":-0.04},{"s":15,"t":0.23,"i":-0.033},{"s":15,"t":0.24,"i":-0.036},{"s":15,"t":0.25,"i":-0.038},{"s":15,"t":0.26,"i":-0.035},{"s":15,"t":0.27,"i":-0.039},{"s":15,"t":0.28,"i":-0.034},{"s":15,"t":0.29,"i":-0.037},
      {"s":15,"t":0.3,"i":-0.032},{"s":15,"t":0.31,"i":-0.04},{"s":15,"t":0.32,"i":-0.036},{"s":15,"t":0.33,"i":-0.035},{"s":15,"t":0.34,"i":-0.038},{"s":15,"t":0.35,"i":-0.033},{"s":15,"t":0.36,"i":-0.039},{"s":15,"t":0.37,"i":-0.037},{"s":15,"t":0.38,"i":-0.034},{"s":15,"t":0.39,"i":-0.036},
      {"s":15,"t":0.4,"i":-0.04},{"s":15,"t":0.41,"i":-0.032},{"s":15,"t":0.42,"i":-0.038},{"s":15,"t":0.43,"i":-0.035},{"s":15,"t":0.44,"i":-0.037},{"s":15,"t":0.45,"i":-0.039},{"s":15,"t":0.46,"i":-0.033},{"s":15,"t":0.47,"i":-0.036},{"s":15,"t":0.48,"i":-0.038},{"s":15,"t":0.49,"i":-0.034},
      {"s":15,"t":0.5,"i":-0.04},{"s":15,"t":0.51,"i":-0.035},{"s":15,"t":0.52,"i":-0.033},{"s":15,"t":0.53,"i":-0.037},{"s":15,"t":0.54,"i":-0.039},{"s":15,"t":0.55,"i":-0.032},{"s":15,"t":0.56,"i":-0.038},{"s":15,"t":0.57,"i":-0.036},{"s":15,"t":0.58,"i":-0.034},{"s":15,"t":0.59,"i":-0.037},{"s":15,"t":0.5995,"i":-0.036},
      {"s":15,"t":0.6005,"i":-0.09},{"s":15,"t":0.603,"i":-0.045},{"s":15,"t":0.607,"i":-0.03},{"s":15,"t":0.615,"i":-0.019},{"s":15,"t":0.625,"i":-0.013},{"s":15,"t":0.635,"i":-0.006},{"s":15,"t":0.645,"i":-0.008},{"s":15,"t":0.655,"i":-0.001},{"s":15,"t":0.665,"i":-0.003},{"s":15,"t":0.675,"i":0.003},{"s":15,"t":0.685,"i":0},{"s":15,"t":0.695,"i":0.006},{"s":15,"t":0.7,"i":0.004},

      {"s":16,"t":0,"i":0.002},{"s":16,"t":0.01,"i":-0.001},{"s":16,"t":0.02,"i":-0.004},{"s":16,"t":0.03,"i":0.001},{"s":16,"t":0.04,"i":-0.003},{"s":16,"t":0.041,"i":-0.005},{"s":16,"t":0.044,"i":-0.028},{"s":16,"t":0.047,"i":-0.02},{"s":16,"t":0.05,"i":-0.004},{"s":16,"t":0.06,"i":0.002},{"s":16,"t":0.07,"i":-0.002},{"s":16,"t":0.08,"i":-0.003},{"s":16,"t":0.09,"i":0.001},{"s":16,"t":0.0995,"i":0.004},
      {"s":16,"t":0.1,"i":-0.075},{"s":16,"t":0.104,"i":-0.053},{"s":16,"t":0.11,"i":-0.051},{"s":16,"t":0.12,"i":-0.046},{"s":16,"t":0.13,"i":-0.052},{"s":16,"t":0.14,"i":-0.053},{"s":16,"t":0.15,"i":-0.049},{"s":16,"t":0.16,"i":-0.05},{"s":16,"t":0.17,"i":-0.047},{"s":16,"t":0.18,"i":-0.054},{"s":16,"t":0.19,"i":-0.048},
      {"s":16,"t":0.2,"i":-0.052},{"s":16,"t":0.21,"i":-0.051},{"s":16,"t":0.22,"i":-0.047},{"s":16,"t":0.23,"i":-0.05},{"s":16,"t":0.24,"i":-0.053},{"s":16,"t":0.25,"i":-0.046},{"s":16,"t":0.26,"i":-0.051},{"s":16,"t":0.27,"i":-0.052},{"s":16,"t":0.28,"i":-0.048},{"s":16,"t":0.29,"i":-0.054},
      {"s":16,"t":0.3,"i":-0.049},{"s":16,"t":0.31,"i":-0.047},{"s":16,"t":0.32,"i":-0.05},{"s":16,"t":0.33,"i":-0.052},{"s":16,"t":0.34,"i":-0.046},{"s":16,"t":0.35,"i":-0.053},{"s":16,"t":0.36,"i":-0.051},{"s":16,"t":0.37,"i":-0.049},{"s":16,"t":0.38,"i":-0.048},{"s":16,"t":0.39,"i":-0.054},
      {"s":16,"t":0.4,"i":-0.05},{"s":16,"t":0.41,"i":-0.047},{"s":16,"t":0.42,"i":-0.052},{"s":16,"t":0.43,"i":-0.051},{"s":16,"t":0.44,"i":-0.046},{"s":16,"t":0.45,"i":-0.053},{"s":16,"t":0.46,"i":-0.048},{"s":16,"t":0.47,"i":-0.05},{"s":16,"t":0.48,"i":-0.051},{"s":16,"t":0.49,"i":-0.049},
      {"s":16,"t":0.5,"i":-0.053},{"s":16,"t":0.51,"i":-0.047},{"s":16,"t":0.52,"i":-0.052},{"s":16,"t":0.53,"i":-0.054},{"s":16,"t":0.54,"i":-0.048},{"s":16,"t":0.55,"i":-0.05},{"s":16,"t":0.56,"i":-0.049},{"s":16,"t":0.57,"i":-0.053},{"s":16,"t":0.58,"i":-0.046},{"s":16,"t":0.59,"i":-0.052},{"s":16,"t":0.5995,"i":-0.05},
      {"s":16,"t":0.6005,"i":-0.12},{"s":16,"t":0.603,"i":-0.055},{"s":16,"t":0.607,"i":-0.035},{"s":16,"t":0.615,"i":-0.022},{"s":16,"t":0.625,"i":-0.015},{"s":16,"t":0.635,"i":-0.01},{"s":16,"t":0.645,"i":-0.005},{"s":16,"t":0.655,"i":-0.007},{"s":16,"t":0.665,"i":0},{"s":16,"t":0.675,"i":-0.003},{"s":16,"t":0.685,"i":0.004},{"s":16,"t":0.695,"i":0.002},{"s":16,"t":0.7,"i":0.008},

      {"s":17,"t":0,"i":-0.001},{"s":17,"t":0.01,"i":0.003},{"s":17,"t":0.02,"i":0.001},{"s":17,"t":0.03,"i":-0.003},{"s":17,"t":0.04,"i":0.002},{"s":17,"t":0.041,"i":-0.008},{"s":17,"t":0.044,"i":-0.033},{"s":17,"t":0.047,"i":-0.024},{"s":17,"t":0.05,"i":0.001},{"s":17,"t":0.06,"i":-0.003},{"s":17,"t":0.07,"i":0.003},{"s":17,"t":0.08,"i":0.004},{"s":17,"t":0.09,"i":-0.002},{"s":17,"t":0.0995,"i":-0.001},
      {"s":17,"t":0.1,"i":-0.088},{"s":17,"t":0.104,"i":-0.055},{"s":17,"t":0.11,"i":-0.05},{"s":17,"t":0.12,"i":-0.053},{"s":17,"t":0.13,"i":-0.051},{"s":17,"t":0.134,"i":-0.06},{"s":17,"t":0.137,"i":-0.079},{"s":17,"t":0.14,"i":-0.072},{"s":17,"t":0.143,"i":-0.056},{"s":17,"t":0.15,"i":-0.052},{"s":17,"t":0.16,"i":-0.055},{"s":17,"t":0.17,"i":-0.05},{"s":17,"t":0.18,"i":-0.056},{"s":17,"t":0.19,"i":-0.053},
      {"s":17,"t":0.2,"i":-0.058},{"s":17,"t":0.21,"i":-0.054},{"s":17,"t":0.22,"i":-0.06},{"s":17,"t":0.23,"i":-0.056},{"s":17,"t":0.24,"i":-0.061},{"s":17,"t":0.25,"i":-0.057},{"s":17,"t":0.26,"i":-0.063},{"s":17,"t":0.27,"i":-0.059},{"s":17,"t":0.28,"i":-0.066},{"s":17,"t":0.29,"i":-0.061},{"s":17,"t":0.3,"i":-0.068},{"s":17,"t":0.31,"i":-0.064},{"s":17,"t":0.32,"i":-0.07},{"s":17,"t":0.33,"i":-0.066},{"s":17,"t":0.34,"i":-0.072},
      {"s":17,"t":0.345,"i":-0.09},{"s":17,"t":0.348,"i":-0.13},{"s":17,"t":0.35,"i":-0.095},{"s":17,"t":0.352,"i":-0.152},{"s":17,"t":0.354,"i":-0.1},{"s":17,"t":0.357,"i":-0.075},{"s":17,"t":0.365,"i":-0.07},{"s":17,"t":0.375,"i":-0.073},{"s":17,"t":0.383,"i":-0.068},{"s":17,"t":0.385,"i":-0.1},{"s":17,"t":0.387,"i":-0.072},{"s":17,"t":0.395,"i":-0.067},
      {"s":17,"t":0.405,"i":-0.074},{"s":17,"t":0.415,"i":-0.069},{"s":17,"t":0.425,"i":-0.076},{"s":17,"t":0.435,"i":-0.071},{"s":17,"t":0.445,"i":-0.068},{"s":17,"t":0.455,"i":-0.075},{"s":17,"t":0.458,"i":-0.088},{"s":17,"t":0.462,"i":-0.071},{"s":17,"t":0.47,"i":-0.074},{"s":17,"t":0.478,"i":-0.093},{"s":17,"t":0.482,"i":-0.073},{"s":17,"t":0.49,"i":-0.068},
      {"s":17,"t":0.5,"i":-0.072},{"s":17,"t":0.51,"i":-0.069},{"s":17,"t":0.52,"i":-0.074},{"s":17,"t":0.53,"i":-0.07},{"s":17,"t":0.54,"i":-0.073},{"s":17,"t":0.55,"i":-0.068},{"s":17,"t":0.56,"i":-0.071},{"s":17,"t":0.57,"i":-0.069},{"s":17,"t":0.58,"i":-0.074},{"s":17,"t":0.59,"i":-0.07},{"s":17,"t":0.5995,"i":-0.072},
      {"s":17,"t":0.6005,"i":-0.1},{"s":17,"t":0.603,"i":-0.06},{"s":17,"t":0.607,"i":-0.04},{"s":17,"t":0.615,"i":-0.028},{"s":17,"t":0.625,"i":-0.019},{"s":17,"t":0.635,"i":-0.012},{"s":17,"t":0.645,"i":-0.009},{"s":17,"t":0.655,"i":-0.004},{"s":17,"t":0.665,"i":-0.006},{"s":17,"t":0.675,"i":0.001},{"s":17,"t":0.685,"i":-0.002},{"s":17,"t":0.695,"i":0.005},{"s":17,"t":0.7,"i":0.003}
    ]
  },
  "layer": [
    {
      "mark": {"type": "line", "color": "black", "strokeWidth": 1.2},
      "encoding": {
        "x": {
          "field": "t",
          "type": "quantitative",
          "scale": {"domain": [0, 0.7], "nice": false, "zero": false},
          "axis": {
            "values": [0.1, 0.6],
            "format": ".1f",
            "title": "t [s]",
            "labelPadding": 19,
            "titleX": 302,
            "titleY": 63,
            "titleAlign": "center",
            "titleBaseline": "alphabetic"
          }
        },
        "y": {
          "field": "i",
          "type": "quantitative",
          "scale": {"domain": [-0.257, 0.6], "nice": false, "zero": false},
          "axis": {
            "values": [-0.2, 0, 0.2, 0.4, 0.6],
            "labelExpr": "datum.value == 0 ? '0' : (datum.value < 0 ? '-' + format(-datum.value, '.1f') : format(datum.value, '.1f'))",
            "title": "I [nA]",
            "labelPadding": 24,
            "titleX": -67,
            "titleY": 232.5,
            "titleAlign": "center",
            "titleBaseline": "alphabetic"
          }
        },
        "detail": {"field": "s", "type": "nominal"}
      }
    },
    {
      "transform": [{"filter": "datum.s == 1"}],
      "mark": {"type": "line", "opacity": 0},
      "encoding": {
        "x": {
          "field": "t",
          "type": "quantitative",
          "axis": {
            "orient": "top",
            "domain": false,
            "ticks": false,
            "labels": false,
            "title": "25 °C\u00a0 Activation",
            "titleFontSize": 19,
            "titleColor": "black",
            "titleAlign": "right",
            "titleBaseline": "alphabetic",
            "titleX": 603,
            "titleY": 1
          }
        },
        "y": {
          "field": "i",
          "type": "quantitative",
          "axis": {
            "orient": "right",
            "domain": false,
            "ticks": false,
            "labels": false,
            "title": "BBP Channelpedia ID 29658 rep 1",
            "titleFontSize": 14,
            "titleColor": "black",
            "titleAngle": 270,
            "titleAlign": "center",
            "titleBaseline": "middle",
            "titleX": 12,
            "titleY": 233
          }
        }
      }
    }
  ],
  "resolve": {"axis": {"x": "independent", "y": "independent"}}
}
